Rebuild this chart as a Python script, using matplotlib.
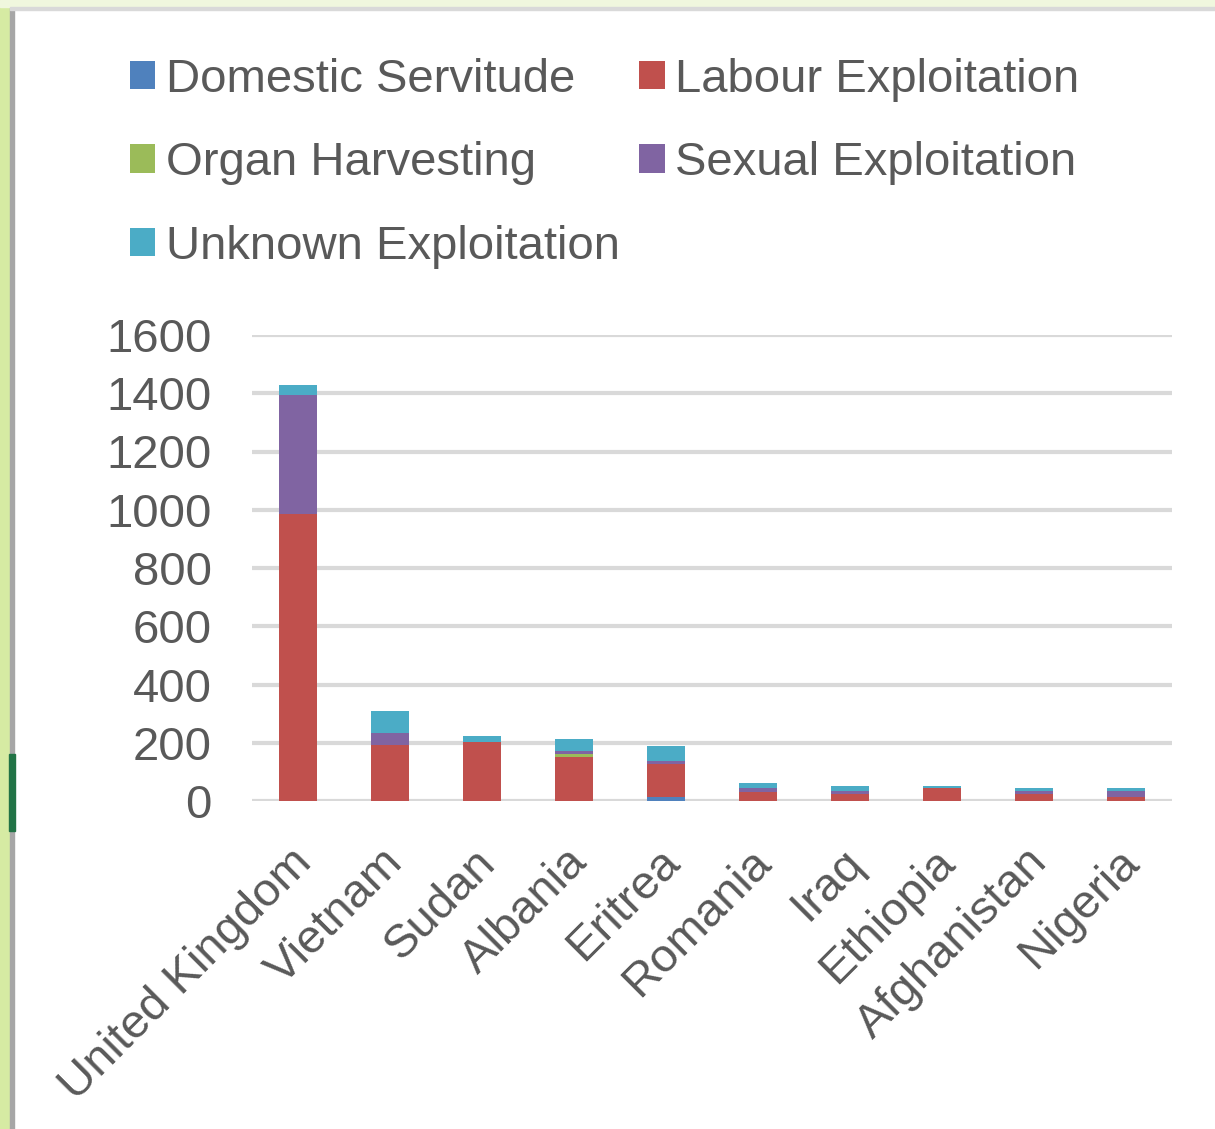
import matplotlib.pyplot as plt
import matplotlib.transforms as mtransforms
import numpy as np
from matplotlib.patches import Rectangle

plt.rcParams['font.family'] = ['Liberation Sans', 'DejaVu Sans']

countries = ['United Kingdom', 'Vietnam', 'Sudan', 'Albania', 'Eritrea',
             'Romania', 'Iraq', 'Ethiopia', 'Afghanistan', 'Nigeria']
domestic = [0, 0, 0, 0, 13, 0, 0, 0, 0, 0]
labour = [985, 193, 204, 151, 113, 32, 25, 43, 25, 13]
organ = [0, 0, 0, 10, 0, 0, 0, 0, 0, 0]
sexual = [408, 41, 0, 10, 11, 11, 8, 0, 8, 20]
unknown = [34, 76, 20, 43, 53, 20, 20, 10, 10, 10]

series = [
    ('Domestic Servitude', domestic, '#4F81BD'),
    ('Labour Exploitation', labour, '#C0504D'),
    ('Organ Harvesting', organ, '#9BBB59'),
    ('Sexual Exploitation', sexual, '#8064A2'),
    ('Unknown Exploitation', unknown, '#4BACC6'),
]

fig = plt.figure(figsize=(12.15, 11.29), dpi=100)
ax = fig.add_axes([252 / 1215, 1 - 801 / 1129, 920 / 1215, 466 / 1129])

x = np.arange(len(countries))
bottom = np.zeros(len(countries))
handles = []
for name, vals, col in series:
    b = ax.bar(x, vals, 0.42, bottom=bottom, color=col, label=name, zorder=3)
    handles.append(b)
    bottom += np.array(vals)

grey = '#595959'
ax.set_xlim(-0.5, len(countries) - 0.5)
ax.set_ylim(0, 1600)
ax.set_yticks(range(0, 1601, 200))
ax.grid(True, axis='y', color='#D9D9D9', linewidth=3, zorder=0)
for s in ax.spines.values():
    s.set_visible(False)
ax.tick_params(axis='both', length=0, labelsize=34, labelcolor=grey)
ax.tick_params(axis='y', pad=29)
ax.set_xticks(x)
ax.set_xticklabels(countries, rotation=45, ha='right', va='top',
                   rotation_mode='anchor')
ax.tick_params(axis='x', pad=26)
# nudge category labels a little down-left, as in the original
shift = mtransforms.ScaledTranslation(-9 / 100, -3 / 100, fig.dpi_scale_trans)
for lbl in ax.get_xticklabels():
    lbl.set_transform(lbl.get_transform() + shift)

# row-major legend order: Domestic, Labour / Organ, Sexual / Unknown
order = [0, 2, 4, 1, 3]
leg = fig.legend([handles[i] for i in order], [series[i][0] for i in order],
                 ncol=2, loc='upper left', bbox_to_anchor=(87 / 1215, 1 - 15 / 1129),
                 frameon=False, fontsize=34, handlelength=0.55, handleheight=0.55,
                 handletextpad=0.22, columnspacing=0.4, labelspacing=0.84)
for t in leg.get_texts():
    t.set_color(grey)

# spreadsheet window edges
fig.patches.append(Rectangle((0, 0), 10 / 1215, 1, transform=fig.transFigure,
                             color='#D6EBA3', zorder=0))
fig.patches.append(Rectangle((10 / 1215, 0), 4 / 1215, 1 - 8 / 1129,
                             transform=fig.transFigure, color='#A6A6A6', zorder=1))
fig.patches.append(Rectangle((9 / 1215, 1 - 831 / 1129), 6 / 1215, 77 / 1129,
                             transform=fig.transFigure, color='#217346', zorder=2))
fig.patches.append(Rectangle((0, 1 - 7 / 1129), 1, 7 / 1129,
                             transform=fig.transFigure, color='#F0F7DE', zorder=0))
fig.patches.append(Rectangle((10 / 1215, 1 - 10 / 1129), 1, 3 / 1129,
                             transform=fig.transFigure, color='#D9D9D9', zorder=1))

fig.savefig('out.png', dpi=100)
